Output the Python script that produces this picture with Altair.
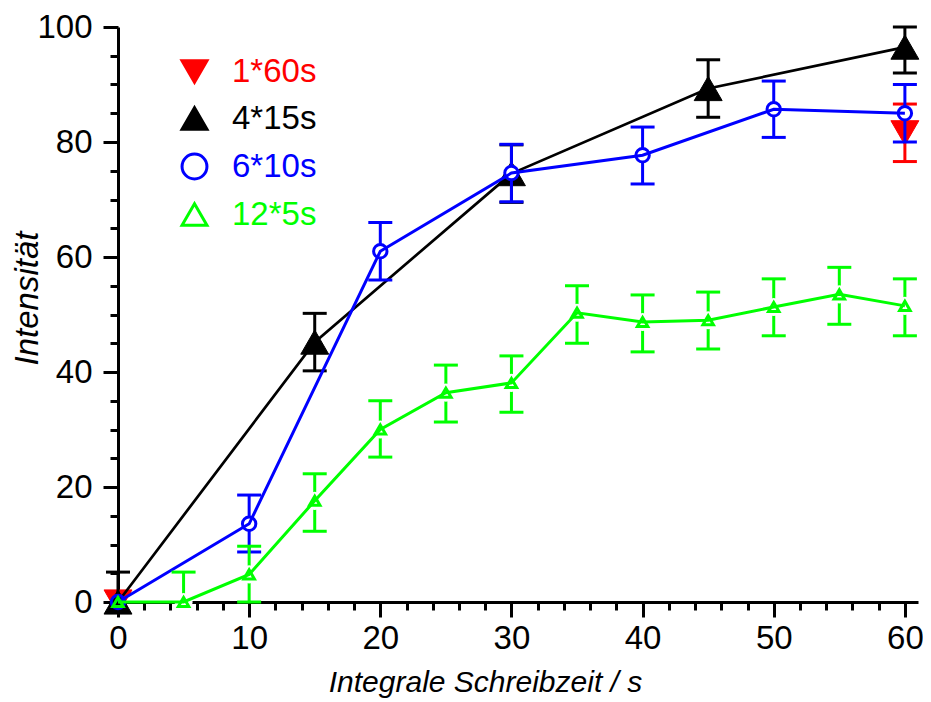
import altair as alt
import pandas as pd

# ---- data ----
series_names = ['1*60s', '4*15s', '6*10s', '12*5s']
series_colors = ['#ff0000', '#000000', '#0000ff', '#00ff00']
series_shapes = ['triangle-down', 'triangle-up', 'circle', 'triangle-up']
series_fills = ['#ff0000', '#000000', 'transparent', 'transparent']

red_t = [0, 60]
red_v = [0, 81.6]
red_lo = [0, 76.6]
red_hi = [0, 86.6]

black_t = [0, 15, 30, 45, 60]
black_v = [0, 45.2, 74.5, 89.3, 96.5]
black_lo = [0, 40.2, 69.5, 84.3, 92.0]
black_hi = [5.2, 50.2, 79.5, 94.3, 100.0]

blue_t = [0, 10, 20, 30, 40, 50, 60]
blue_v = [0, 13.6, 61.0, 74.6, 77.7, 85.7, 85.0]
blue_lo = [0, 8.7, 56.0, 69.6, 72.7, 80.8, 80.0]
blue_hi = [0, 18.6, 66.0, 79.6, 82.6, 90.6, 90.0]

green_t = [0, 5, 10, 15, 20, 25, 30, 35, 40, 45, 50, 55, 60]
green_v = [0, 0, 4.8, 17.6, 30.0, 36.4, 38.1, 50.3, 48.7, 49.0, 51.3, 53.5, 51.5]
green_lo = [0, 0, 0, 12.3, 25.2, 31.3, 33.0, 45.0, 43.5, 44.0, 46.3, 48.3, 46.3]
green_hi = [0, 5.2, 9.7, 22.3, 35.0, 41.2, 42.8, 55.0, 53.4, 53.9, 56.2, 58.2, 56.2]

x_tick_values = list(range(0, 61, 2))
y_tick_values = list(range(0, 101, 5))

series_data = [
    (red_t, red_v, red_lo, red_hi),
    (black_t, black_v, black_lo, black_hi),
    (blue_t, blue_v, blue_lo, blue_hi),
    (green_t, green_v, green_lo, green_hi),
]

# ---- styles ----
point_sizes = [780, 780, 180, 110]
point_stroke = [1, 1, 3, 3]
line_widths = [0, 2.7, 3, 3]          # the 1*60s series has no connecting line
halo_sizes = [0, 0, 180, 330]

FONT = 'Liberation Sans'

x_scale = alt.Scale(domain=[0, 61], nice=False, zero=False)
y_scale = alt.Scale(domain=[0, 100], nice=False, zero=False)

x_axis = alt.Axis(
    values=x_tick_values,
    labelExpr="datum.value % 10 === 0 ? datum.label : ''",
    tickSize={"expr": "datum.value % 10 === 0 ? 15 : 8"},
    tickWidth=3, tickColor='black', domainWidth=3, domainColor='black',
    labelFont=FONT, labelFontSize=33, labelColor='black', labelPadding=5,
    labelFlush=False, labelOverlap=False, grid=False,
    title='Integrale Schreibzeit / s', titleFont=FONT, titleFontSize=30,
    titleFontStyle='italic', titleFontWeight='normal', titleColor='black',
    titleX=367, titleY=89, titleBaseline='alphabetic', titleAlign='center',
)
y_axis = alt.Axis(
    values=y_tick_values,
    labelExpr="datum.value % 20 === 0 ? datum.label : ''",
    tickSize={"expr": "datum.value % 20 === 0 ? 15 : 8"},
    tickWidth=3, tickColor='black', domainWidth=3, domainColor='black',
    labelFont=FONT, labelFontSize=33, labelColor='black', labelPadding=11,
    labelFlush=False, labelOverlap=False, grid=False,
    title='Intensität', titleFont=FONT, titleFontSize=33,
    titleFontStyle='italic', titleFontWeight='normal', titleColor='black',
    titleX=-81, titleY=271, titleBaseline='alphabetic', titleAlign='center',
    titleAngle=270,
)

legend = alt.Legend(
    title=None, orient='none', legendX=60, legendY=28,
    labelFont=FONT, labelFontSize=33,
    labelColor={"expr": "scale('color', datum.value)"},
    symbolSize=620, symbolStrokeWidth=3, rowPadding=12, labelOffset=21,
    padding=0,
)

color_enc = alt.Color('series:N', scale=alt.Scale(domain=series_names, range=series_colors), legend=legend)
shape_enc = alt.Shape('series:N', scale=alt.Scale(domain=series_names, range=series_shapes), legend=legend)
fill_enc = alt.Fill('series:N', scale=alt.Scale(domain=series_names, range=series_fills), legend=legend)

X = alt.X('t:Q', scale=x_scale, axis=x_axis)
layers = []
for i, (t, v, lo, hi) in enumerate(series_data):
    df = pd.DataFrame({'series': series_names[i], 't': t, 'v': v, 'lo': lo, 'hi': hi})
    base = alt.Chart(df)
    c = series_colors[i]
    Yv = alt.Y('v:Q', scale=y_scale, axis=y_axis)
    err = base.transform_filter('datum.hi > datum.lo').mark_rule(color=c, strokeWidth=3).encode(
        x=X, y=alt.Y('lo:Q', scale=y_scale, axis=y_axis), y2='hi:Q')
    cap_hi = base.transform_filter('datum.hi > datum.v').mark_tick(
        orient='horizontal', size=24, thickness=3, color=c, opacity=1).encode(
        x=X, y=alt.Y('hi:Q', scale=y_scale, axis=y_axis))
    cap_lo = base.transform_filter('datum.lo < datum.v').mark_tick(
        orient='horizontal', size=24, thickness=3, color=c, opacity=1).encode(
        x=X, y=alt.Y('lo:Q', scale=y_scale, axis=y_axis))
    layers += [err, cap_hi, cap_lo]
    if halo_sizes[i] > 0:
        halo = base.transform_filter('datum.t > 0').mark_point(
            filled=True, color='white', shape='circle', size=halo_sizes[i], opacity=1).encode(x=X, y=Yv)
        layers.append(halo)
    if line_widths[i] > 0:
        line = base.mark_line(color=c, strokeWidth=line_widths[i]).encode(x=X, y=Yv, order='t:Q')
        layers.append(line)
    pts = base.mark_point(filled=False, size=point_sizes[i], strokeWidth=point_stroke[i], opacity=1).encode(
        x=X, y=Yv, color=color_enc, shape=shape_enc, fill=fill_enc)
    layers.append(pts)

chart = alt.layer(*layers).properties(
    width=800, height=575,
    autosize=alt.AutoSizeParams(type='none'),
    padding={'left': 110, 'top': 19, 'right': 5, 'bottom': 99},
    background='white',
).configure_view(stroke=None)

chart.save("out.html", embed_options={"renderer": "svg", "actions": False})
